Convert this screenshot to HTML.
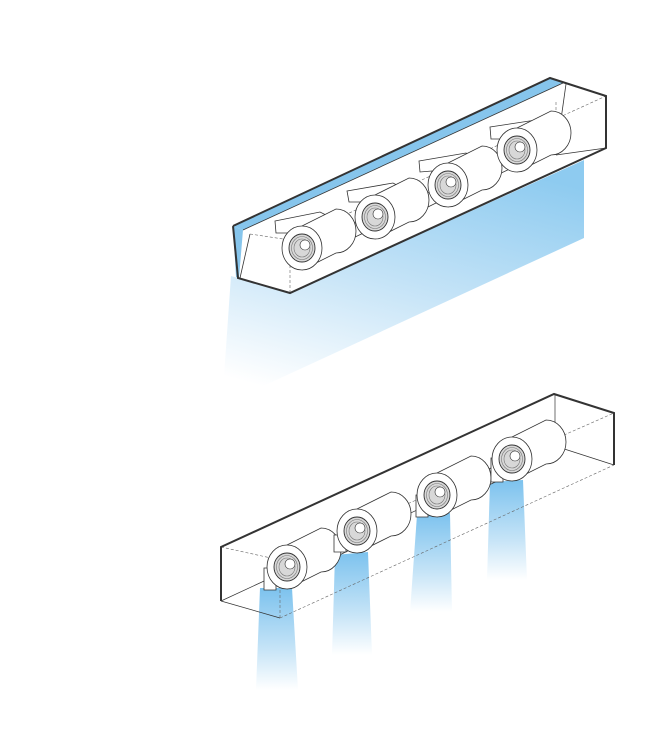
<!DOCTYPE html>
<html><head><meta charset="utf-8"><style>html,body{margin:0;padding:0;background:#fff}svg{display:block}</style></head><body>
<svg width="657" height="733" viewBox="0 0 657 733" xmlns="http://www.w3.org/2000/svg">
<defs>
<linearGradient id="g1" x1="0.7" y1="0" x2="0.3" y2="1">
<stop offset="0" stop-color="#8ecbf0"/><stop offset="0.5" stop-color="#c4e3f7"/><stop offset="1" stop-color="#fff"/></linearGradient>
<linearGradient id="g2" x1="0" y1="0" x2="0" y2="1">
<stop offset="0" stop-color="#7cc2ee"/><stop offset="0.6" stop-color="#c6e4f7"/><stop offset="1" stop-color="#fff"/></linearGradient>
<g id="fan">
<path d="M0,-21 L34,-38 A20,22 0 0 1 34,6 L0,23" fill="#fff" stroke="#333" stroke-width="0.8"/>
<ellipse cx="0" cy="1" rx="20" ry="22" fill="#fff" stroke="#333" stroke-width="0.8"/>
<ellipse cx="0" cy="1" rx="13" ry="14" fill="#d8d8d8" stroke="#333" stroke-width="0.9"/>
<ellipse cx="0" cy="1" rx="10.5" ry="11.5" fill="none" stroke="#777" stroke-width="0.6"/>
<ellipse cx="0" cy="1" rx="8" ry="9" fill="none" stroke="#777" stroke-width="0.6"/>
<circle cx="3" cy="-2" r="5" fill="#fff" stroke="#333" stroke-width="0.6"/>
</g>
</defs>
<!-- TOP UNIT -->
<polygon points="231,276 290,293 584,160 584,238 222,405" fill="url(#g1)"/>
<polygon points="233,226 550,78 606,96 606,148 290,293 238,278" fill="#fff"/>
<polygon points="233,226 550,78 563,83 243,230" fill="#86c5ec"/>
<polygon points="233,226 243,230 239,278 236,277" fill="#86c5ec"/>
<line x1="243" y1="230" x2="563" y2="83" stroke="#333" stroke-width="0.8"/>
<line x1="250" y1="234" x2="240" y2="278" stroke="#333" stroke-width="0.8"/>
<line x1="566" y1="84" x2="556" y2="155" stroke="#333" stroke-width="0.8"/>
<line x1="556" y1="155" x2="606" y2="148" stroke="#333" stroke-width="0.8"/>
<line x1="250" y1="234" x2="290" y2="240" stroke="#666" stroke-width="0.6" stroke-dasharray="3,2"/>
<line x1="290" y1="240" x2="606" y2="96" stroke="#666" stroke-width="0.6" stroke-dasharray="3,2"/>
<line x1="290" y1="240" x2="290" y2="293" stroke="#666" stroke-width="0.6" stroke-dasharray="3,2"/>
<line x1="556" y1="155" x2="556" y2="100" stroke="#666" stroke-width="0.6" stroke-dasharray="3,2"/>
<g stroke="#333" stroke-width="0.8" fill="#fff">
<polygon points="326,237 376,213 376,227 326,251"/>
<polygon points="400,207 448,183 448,197 400,221"/>
<polygon points="470,174 520,150 520,164 470,188"/>
<polygon points="275,221 320,212 340,222 305,238 288,233 276,233"/>
<use href="#fan" x="302" y="247"/>
<polygon points="347,191 393,183 412,193 380,206 362,202 349,202"/>
<use href="#fan" x="375" y="216"/>
<polygon points="419,161 466,153 484,162 450,175 432,171 420,172"/>
<use href="#fan" x="448" y="184"/>
<polygon points="490,127 536,120 552,130 520,143 502,139 491,139"/>
<use href="#fan" x="517" y="149"/>
</g>
<polyline points="233,226 550,78 606,96 606,148 290,293 238,278 233,226" fill="none" stroke="#333" stroke-width="2"/>
<!-- BOTTOM UNIT -->
<polygon points="260,588 292,588 298,690 256,690" fill="url(#g2)"/>
<polygon points="335,555 368,552 372,655 332,655" fill="url(#g2)"/>
<polygon points="417,515 450,513 452,612 410,612" fill="url(#g2)"/>
<polygon points="490,482 523,480 527,580 487,580" fill="url(#g2)"/>
<g stroke="#333" stroke-width="0.7" fill="none">
<line x1="221" y1="601" x2="280" y2="618"/>
<line x1="221" y1="601" x2="555" y2="446"/>
<line x1="555" y1="394" x2="555" y2="446"/>
<line x1="555" y1="446" x2="614" y2="465"/>
</g>
<g stroke="#666" stroke-width="0.6" fill="none" stroke-dasharray="3,2">
<line x1="280" y1="618" x2="614" y2="465"/>
<line x1="221" y1="547" x2="280" y2="560"/>
<line x1="280" y1="560" x2="614" y2="413"/>
<line x1="280" y1="560" x2="280" y2="618"/>
</g>
<g stroke="#333" stroke-width="0.8" fill="#fff">
<polygon points="315,551 360,529 360,545 315,567"/>
<polygon points="470,478 512,458 512,474 470,494"/>
<polygon points="264,568 276,568 276,590 264,590"/>
<use href="#fan" x="287" y="566"/>
<polygon points="334,535 346,535 346,552 334,552"/>
<use href="#fan" x="357" y="530"/>
<polygon points="416,495 428,495 428,517 416,517"/>
<use href="#fan" x="437" y="494"/>
<polygon points="491,458 503,458 503,482 491,482"/>
<use href="#fan" x="512" y="458"/>
</g>
<polyline points="221,601 221,547 554,394 614,413 614,465" fill="none" stroke="#333" stroke-width="2"/>
</svg>
</body></html>
